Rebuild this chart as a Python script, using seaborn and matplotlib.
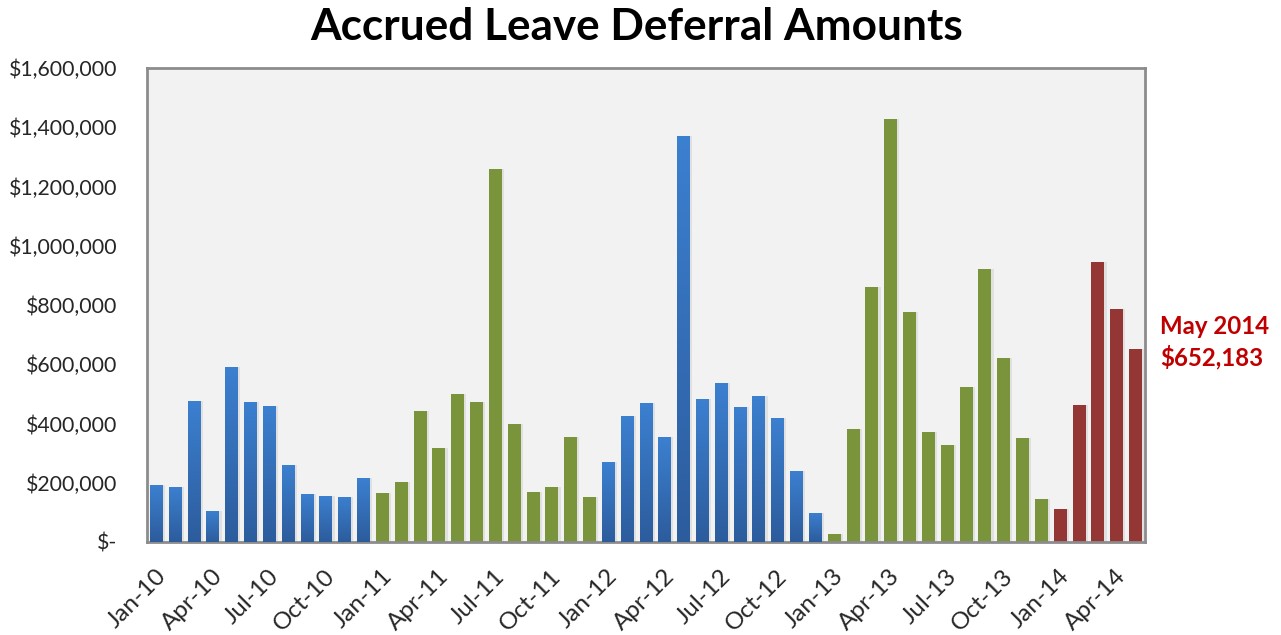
import numpy as np
import pandas as pd
import matplotlib
matplotlib.use("Agg")
import matplotlib.pyplot as plt
import matplotlib.colors as mcolors
import matplotlib.transforms as mtransforms
import seaborn as sns

# ---- data ----
months = pd.date_range("2010-01-01", "2014-05-01", freq="MS")
month_labels = [d.strftime("%b-%y") for d in months]
amounts = [
    192000, 186000, 476000, 105000, 591000, 473000, 459000, 260000, 162000, 155000, 152000, 216000,   # 2010
    165000, 203000, 442000, 317000, 500000, 473000, 1259000, 398000, 169000, 186000, 354000, 152000,  # 2011
    270000, 425000, 469000, 354000, 1370000, 483000, 537000, 456000, 493000, 419000, 240000, 98000,   # 2012
    27000, 381000, 861000, 1428000, 776000, 371000, 327000, 523000, 922000, 621000, 351000, 145000,   # 2013
    111000, 462000, 945000, 787000, 652183,                                                            # 2014
]
years = [d.year for d in months]
year_colors = {2010: "blue", 2011: "green", 2012: "blue", 2013: "green", 2014: "red"}
groups = [year_colors[y] for y in years]
title = "Accrued Leave Deferral Amounts"
note_lines = ["May 2014", "$652,183"]
yticks = [0, 200000, 400000, 600000, 800000, 1000000, 1200000, 1400000, 1600000]

df = pd.DataFrame({"month": month_labels, "amount": amounts, "group": groups})

palette = {"blue": "#3673C2", "green": "#7A943C", "red": "#943634"}

sns.set_theme(style="white")
plt.rcParams["font.family"] = ["Lato", "DejaVu Sans"]

fig = plt.figure(figsize=(12.81, 6.35), dpi=100)
ax = fig.add_axes([147 / 1281, 1 - 542 / 635, (1145 - 147) / 1281, (542 - 68) / 635])
ax.set_facecolor("#F2F2F2")

# soft shadow layer
sns.barplot(data=df, x="month", y="amount", color="#D9D9D9", width=0.72,
            order=month_labels, ax=ax, saturation=1, legend=False, zorder=1)
shadow_patches = list(ax.patches)
for p in shadow_patches:
    p.set_x(p.get_x() + 0.1)
    p.set_alpha(0.7)
    p.set_linewidth(0)

sns.barplot(data=df, x="month", y="amount", hue="group", palette=palette,
            width=0.69, order=month_labels, dodge=False, ax=ax, saturation=1,
            legend=False, zorder=2)
bar_patches = [p for p in ax.patches if p not in shadow_patches]

# gradient fill for blue bars
grad_cmap = mcolors.LinearSegmentedColormap.from_list("bl", ["#2C5C9C", "#3C80D0"])
gradient = np.linspace(0, 1, 256).reshape(-1, 1)
for p in bar_patches:
    fc = mcolors.to_hex(p.get_facecolor())
    if fc.lower() == palette["blue"].lower():
        x0, y0 = p.get_x(), p.get_y()
        w, h = p.get_width(), p.get_height()
        im = ax.imshow(gradient, cmap=grad_cmap, aspect="auto", origin="lower",
                       extent=[x0, x0 + w, y0, y0 + h], zorder=3)
        im.set_clip_path(p)
    p.set_linewidth(0)

ax.set_xlim(-0.5, len(month_labels) - 0.5)
ax.set_ylim(0, 1600000)

tick_pos = np.arange(0, len(month_labels), 3) - 0.5
ax.set_xticks(tick_pos)
ax.set_xticklabels([month_labels[i] for i in range(0, len(month_labels), 3)],
                   rotation=45, ha="right", va="top", rotation_mode="anchor", fontsize=17.5)
ax.set_yticks(yticks)
ax.set_yticklabels([("$-" if v == 0 else f"${v:,.0f}") for v in yticks], fontsize=15.3)

ax.tick_params(axis="x", direction="out", length=5, width=1.5, color="#8C8C8C", pad=12)
ax.tick_params(axis="y", direction="out", length=6.5, width=1.5, color="#8C8C8C", pad=15)

shift = mtransforms.ScaledTranslation(8 / 100, 0, fig.dpi_scale_trans)
for t in ax.xaxis.get_major_ticks():
    t.label1.set_transform(t.label1.get_transform() + shift)

ax.set_xlabel("")
ax.set_ylabel("")
for s in ax.spines.values():
    s.set_visible(True)
    s.set_color("#8C8C8C")
    s.set_linewidth(2)

fig.text(637 / 1281, 1 - 27 / 635, title, ha="center", va="center",
         fontsize=31.8, fontweight="bold", color="black")

fig.text(1160 / 1281, 1 - 326 / 635, note_lines[0], ha="left", va="center",
         fontsize=17.3, fontweight="bold", color="#C00000")
fig.text(1160 / 1281, 1 - 357 / 635, note_lines[1], ha="left", va="center",
         fontsize=17.3, fontweight="bold", color="#C00000")

fig.savefig("out.png", dpi=100, facecolor="white")
